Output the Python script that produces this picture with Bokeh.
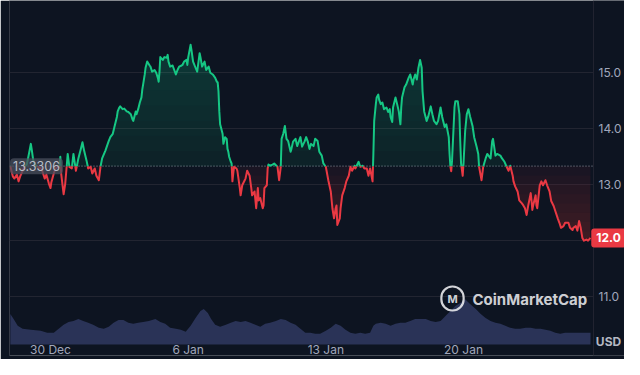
import math
import numpy as np
from bokeh.plotting import figure
from bokeh.models import Range1d, FixedTicker, NumeralTickFormatter, Span, Label, BoxAnnotation
from bokeh.embed import file_html
from bokeh.resources import INLINE

# ---------------- data ----------------
# hours since 2024-12-27 23:00
hours = [
    0, 1, 3, 5, 8, 10, 12, 15, 17, 20, 22, 25, 26, 28, 31, 34, 38, 42, 44, 47, 49, 50,
    53, 55, 58, 60, 61, 62, 65, 67, 70, 72, 75, 77, 80, 81, 83, 86, 88, 90, 93, 95, 98,
    100, 103, 105, 108, 110,
    112, 116, 120, 122, 125, 127, 130, 131, 133, 134, 137, 139, 142, 144, 147, 149, 150,
    153, 154, 156, 158, 160, 161, 162, 164, 165, 167, 170, 171, 173, 176, 178, 180, 181,
    182, 183, 186, 188, 191, 192, 193, 195, 198, 199, 202, 204, 206, 209, 210, 212, 215,
    216, 217, 220, 221, 223, 226, 228, 231, 232, 234, 237, 239, 242, 244, 247, 250, 252,
    253, 254, 255, 256, 259, 260, 262, 264, 265, 266, 267, 269, 270, 271, 272, 273, 276,
    277, 280, 281, 283, 286, 287, 289, 292, 294, 295, 298, 300, 302, 303, 305, 308, 309,
    310, 313, 314, 315, 317, 320, 322, 326, 328, 330, 331, 333, 335, 337, 339, 342, 343,
    345, 348, 350, 352, 354, 356, 359, 361, 363, 365, 367, 370, 372, 375, 377, 380, 382,
    385, 386, 388, 391, 393, 395, 397, 398, 399, 402, 403, 405, 408, 410, 413, 415, 417,
    420, 421, 425, 427, 430, 432, 435, 437, 439, 442, 443, 444, 446, 447, 449, 450, 452,
    454, 456, 459, 461, 463, 464, 466, 467, 470, 472, 474, 476, 477, 478, 481, 483, 486,
    488, 491, 492, 494, 496, 498, 500, 502, 503, 505, 508, 510, 513, 515, 517, 520, 522,
    525, 527, 530, 532, 535, 536, 537, 538, 539, 542, 543, 546, 548, 549, 550, 552, 553,
    555, 557, 559, 561, 564, 566, 569, 571, 572, 575, 577, 580, 582, 586, 588, 589, 592,
    594, 598, 600, 603, 605, 608, 610, 613, 614, 616, 619, 621, 624, 626, 628, 630, 632,
    635, 636, 637, 638, 641, 642, 643, 646, 648, 650, 653, 655, 658, 660, 663, 665, 668,
    670, 672, 675, 677, 681, 683, 686, 687, 690, 692, 694, 696, 698, 700, 703, 705, 708,
]
prices = [
    13.34, 13.27, 13.15, 13.11, 13.18, 13.06, 13.15, 13.25, 13.32, 13.36, 13.50, 13.73,
    13.64, 13.43, 13.34, 13.32, 13.29, 13.11, 13.18, 13.02, 12.94, 13.04, 13.20, 13.29,
    13.32, 13.32, 13.50, 13.20, 12.83, 13.02, 13.55, 13.32, 13.29, 13.55, 13.25, 13.32,
    13.47, 13.64, 13.76, 13.61, 13.43, 13.29, 13.32, 13.20, 13.29, 13.16, 13.08, 13.32,
    13.47, 13.61, 13.78, 13.85, 13.91, 14.03, 14.21, 14.31, 14.38, 14.40, 14.35, 14.36,
    14.31, 14.30, 14.26, 14.17, 14.14, 14.31, 14.26, 14.35, 14.47, 14.56, 14.70, 14.79,
    14.97, 15.09, 15.20, 15.13, 15.11, 15.02, 15.05, 15.00, 14.91, 14.84, 15.02, 15.28,
    15.23, 15.28, 15.27, 15.32, 15.20, 15.11, 15.13, 15.09, 14.97, 15.05, 15.11, 15.13,
    15.14, 15.20, 15.23, 15.14, 15.27, 15.50, 15.41, 15.20, 15.09, 15.02, 15.35, 15.28,
    15.11, 15.20, 15.05, 15.11, 15.00, 14.97, 14.91, 14.84, 14.83, 14.67, 14.31, 14.08,
    13.91, 13.73, 13.85, 13.82, 13.64, 13.59, 13.50, 13.41, 13.38, 13.06, 13.20, 13.32,
    13.29, 13.25, 12.94, 12.81, 12.99, 13.08, 13.11, 13.25, 13.16, 12.94, 12.81, 12.88,
    12.58, 12.94, 12.72, 12.76, 12.58, 12.63, 12.94, 12.99, 13.29, 13.36, 13.34, 13.36,
    13.38, 13.32, 13.08, 13.32, 13.82, 13.91, 14.05, 13.82, 13.78, 13.59, 13.64, 13.77,
    13.82, 13.69, 13.77, 13.85, 13.68, 13.77, 13.85, 13.77, 13.64, 13.73, 13.69, 13.82,
    13.78, 13.59, 13.52, 13.38, 13.32, 13.24, 13.08, 12.88, 12.58, 12.40, 12.58, 12.63,
    12.28, 12.40, 12.58, 12.81, 12.94, 13.06, 13.16, 13.32, 13.25, 13.34, 13.29, 13.41,
    13.32, 13.34, 13.29, 13.29, 13.16, 13.29, 13.06, 13.55, 14.14, 14.44, 14.56, 14.61,
    14.52, 14.44, 14.47, 14.35, 14.38, 14.30, 14.35, 14.21, 14.12, 14.38, 14.56, 14.44,
    14.31, 14.08, 14.38, 14.56, 14.74, 14.79, 14.91, 14.97, 14.79, 14.88, 14.97, 14.88,
    15.09, 15.23, 15.09, 14.67, 14.31, 14.14, 14.22, 14.40, 14.26, 14.14, 14.08, 14.14,
    14.38, 14.21, 14.03, 14.08, 13.85, 13.55, 13.32, 13.24, 13.43, 14.38, 14.49, 14.49,
    14.26, 13.78, 13.38, 13.16, 13.38, 13.96, 14.26, 14.35, 14.22, 14.05, 13.85, 13.68,
    13.55, 13.32, 13.08, 13.32, 13.47, 13.55, 13.47, 13.78, 13.82, 13.52, 13.55, 13.52,
    13.47, 13.41, 13.34, 13.25, 13.34, 13.16, 13.06, 12.97, 12.88, 12.72, 12.67, 12.63,
    12.58, 12.46, 12.63, 12.85, 12.71, 12.55, 12.63, 12.81, 12.63, 12.58, 12.99, 13.06,
    12.99, 13.08, 12.99, 12.88, 12.71, 12.62, 12.53, 12.40, 12.32, 12.23, 12.26, 12.32,
    12.32, 12.23, 12.19, 12.23, 12.26, 12.18, 12.35, 12.23, 12.05, 12.00, 12.02, 12.00,
    12.05,
]
vol_hours = [
    0, 4, 9, 15, 25, 37, 45, 53, 59, 65, 71, 77, 83, 89, 95, 101, 108, 114, 120, 126,
    132, 138, 144, 150, 156, 162, 169, 177, 183, 189, 195, 202, 208, 214, 220, 226, 232,
    236, 241, 245, 250, 256, 263, 269, 275, 281, 287, 293, 299, 305, 311, 317, 324, 330,
    336, 342, 348, 354, 360, 366, 372, 378, 385, 391, 397, 403, 409, 415, 421, 427, 433,
    439, 443, 446, 452, 458, 464, 470, 476, 482, 488, 494, 500, 507, 513, 519, 525, 531,
    537, 543, 549, 555, 561, 568, 574, 580, 586, 592, 598, 604, 610, 616, 622, 629, 635,
    641, 647, 653, 659, 665, 671, 677, 683, 690, 696, 702, 708,
]
vol_musd = [
    31, 26, 19, 16, 15, 14, 12, 12, 16, 20, 23, 24, 26, 24, 22, 20, 17, 16, 18, 22,
    25, 25, 22, 21, 22, 23, 24, 26, 23, 21, 17, 16, 15, 13, 19, 27, 34,
    36, 32, 26, 20, 18, 20, 22, 24, 23, 24, 22, 20, 18, 21, 22, 24, 26,
    25, 22, 20, 16, 12, 12, 11, 11, 14, 17, 21, 19, 15, 12, 11, 12, 11,
    12, 19, 21, 22, 21, 19, 21, 22, 22, 24, 26, 26, 26, 24, 23, 24, 29,
    34, 39, 42, 46, 41, 36, 31, 27, 24, 22, 21, 19, 17, 16, 16, 17, 17,
    16, 16, 15, 14, 12, 11, 12, 12, 12, 12, 12, 12,
]
baseline = 13.3306
start_label = "2024-12-27 23:00"
tick_hours = [49, 217, 385, 553]          # 30 Dec, 6 Jan, 13 Jan, 20 Jan (00:00)
tick_labels = ["30 Dec", "6 Jan", "13 Jan", "20 Jan"]
price_ticks = [11, 12, 13, 14, 15]
plot_end_hour = 711.6                      # right edge of the price area

# ---------------- style ----------------
BG = "#0d1421"
GRID = "#222531"
GREEN = "#16c784"
RED = "#ea3943"
VOL = "#2a3357"
TXT = "#a1a7bb"
FONT = "Inter"

t = np.array(hours, dtype=float)
y = np.array(prices, dtype=float)

# insert baseline crossings so the line changes colour exactly at the baseline
xs, ys = [t[0]], [y[0]]
for i in range(1, len(t)):
    a, b = y[i - 1] - baseline, y[i] - baseline
    if a * b < 0:
        f = a / (a - b)
        xs.append(t[i - 1] + f * (t[i] - t[i - 1]))
        ys.append(baseline)
    xs.append(t[i])
    ys.append(y[i])
xs = np.array(xs)
ys = np.array(ys)

p = figure(width=624, height=359,
           x_range=Range1d(-1.03, 749.45), y_range=Range1d(9.9488, 16.2915),
           y_axis_location="right", output_backend="svg", toolbar_location=None,
           background_fill_color=BG, border_fill_color=BG,
           min_border_left=9, min_border_right=0, min_border_top=0, min_border_bottom=0)
p.outline_line_color = None
p.extra_y_ranges = {"vol": Range1d(-11, 348)}

# grid
p.xgrid.visible = False
p.ygrid.ticker = FixedTicker(ticks=price_ticks)
p.ygrid.grid_line_color = GRID
p.ygrid.grid_line_width = 1

# volume
p.varea(x=np.array(vol_hours, float), y1=np.zeros(len(vol_musd)), y2=np.array(vol_musd, float),
        fill_color=VOL, fill_alpha=1.0, y_range_name="vol")

# gradient-like fills (stacked translucent layers)
N = 8
gmax = ys.max()
rmin = ys.min()
for k in range(N):
    tk = baseline + k * (gmax - baseline) / N
    p.varea(x=xs, y1=np.full(len(xs), tk), y2=np.maximum(ys, tk),
            fill_color=GREEN, fill_alpha=0.08 if k == 0 else 0.026)
for k in range(N):
    tk = baseline - k * (baseline - rmin) / N
    p.varea(x=xs, y1=np.minimum(ys, tk), y2=np.full(len(xs), tk),
            fill_color=RED, fill_alpha=0.06 if k == 0 else 0.03)

# baseline dotted
p.add_layout(Span(location=baseline, dimension="width", line_color="#9aa0ad",
                  line_alpha=0.75, line_dash="1 2", line_width=1.2, level="underlay"))
# mask the price-scale strip on the right
p.add_layout(BoxAnnotation(left=plot_end_hour, fill_color=BG, fill_alpha=1.0,
                           line_color=None, level="underlay"))
# left and right frame lines
p.add_layout(Span(location=-1.03, dimension="height", line_color=GRID, line_width=1))
p.add_layout(Span(location=plot_end_hour, dimension="height", line_color=GRID, line_width=1))

green_y = np.where(ys >= baseline, ys, np.nan)
red_y = np.where(ys <= baseline, ys, np.nan)
p.line(xs, red_y, line_color=RED, line_width=2.0, line_join="round")
p.line(xs, green_y, line_color=GREEN, line_width=2.0, line_join="round")

# axes (labels pulled inward so they sit in the price-scale strip)
ya = p.yaxis[0]
ya.ticker = FixedTicker(ticks=price_ticks)
ya.formatter = NumeralTickFormatter(format="0.0")
ya.axis_line_color = None
ya.major_tick_line_color = None
ya.minor_tick_line_color = None
ya.major_tick_out = 0
ya.major_tick_in = 0
ya.minor_tick_out = 0
ya.major_label_standoff = -26
ya.major_label_text_color = TXT
ya.major_label_text_font = FONT
ya.major_label_text_font_size = "12px"

xa = p.xaxis[0]
xa.ticker = FixedTicker(ticks=tick_hours)
xa.major_label_overrides = {h: lab for h, lab in zip(tick_hours, tick_labels)}
xa.axis_line_color = None
xa.major_tick_line_color = None
xa.minor_tick_line_color = None
xa.major_tick_out = 0
xa.major_tick_in = 0
xa.minor_tick_out = 0
xa.major_label_standoff = -14
xa.major_label_text_color = TXT
xa.major_label_text_font = FONT
xa.major_label_text_font_size = "12px"

# baseline value tag
p.add_layout(Label(x=27, y=baseline, x_units="screen", y_units="data",
                   text=f"{baseline:.4f}", text_align="center", text_baseline="middle",
                   text_font=FONT, text_font_size="12.5px", text_color="#b9bdc7",
                   background_fill_color="#4a4f5c", background_fill_alpha=0.75,
                   border_radius=4, padding=3))

# last price tag
last = prices[-1]
p.add_layout(Label(x=599, y=last, x_units="screen", y_units="data",
                   text=f"{math.floor(last * 10) / 10:.1f}", text_align="center",
                   text_baseline="middle", text_font=FONT, text_font_size="12px",
                   text_font_style="bold", text_color="#ffffff",
                   background_fill_color=RED, border_radius=3, padding=5))

# currency label
p.add_layout(Label(x=599, y=14, x_units="screen", y_units="screen", text="USD",
                   text_align="center", text_baseline="middle", text_font=FONT,
                   text_font_size="12px", text_font_style="bold", text_color="#b4b8c3"))

# watermark
p.add_layout(Label(x=443, y=57, x_units="screen", y_units="screen", text="M",
                   text_align="center", text_baseline="middle", text_font=FONT,
                   text_font_size="11px", text_font_style="bold", text_color="#e8e9ec",
                   text_alpha=0.9, border_line_color="#e8e9ec", border_line_width=2.2,
                   border_line_alpha=0.9, border_radius=11,
                   padding=dict(left=6, right=6, top=5, bottom=5)))
p.add_layout(Label(x=463, y=56, x_units="screen", y_units="screen", text="CoinMarketCap",
                   text_align="left", text_baseline="middle", text_font=FONT,
                   text_font_size="15px", text_font_style="bold", text_color="#e8e9ec",
                   text_alpha=0.9))

open("out.html", "w").write(file_html(p, INLINE))
